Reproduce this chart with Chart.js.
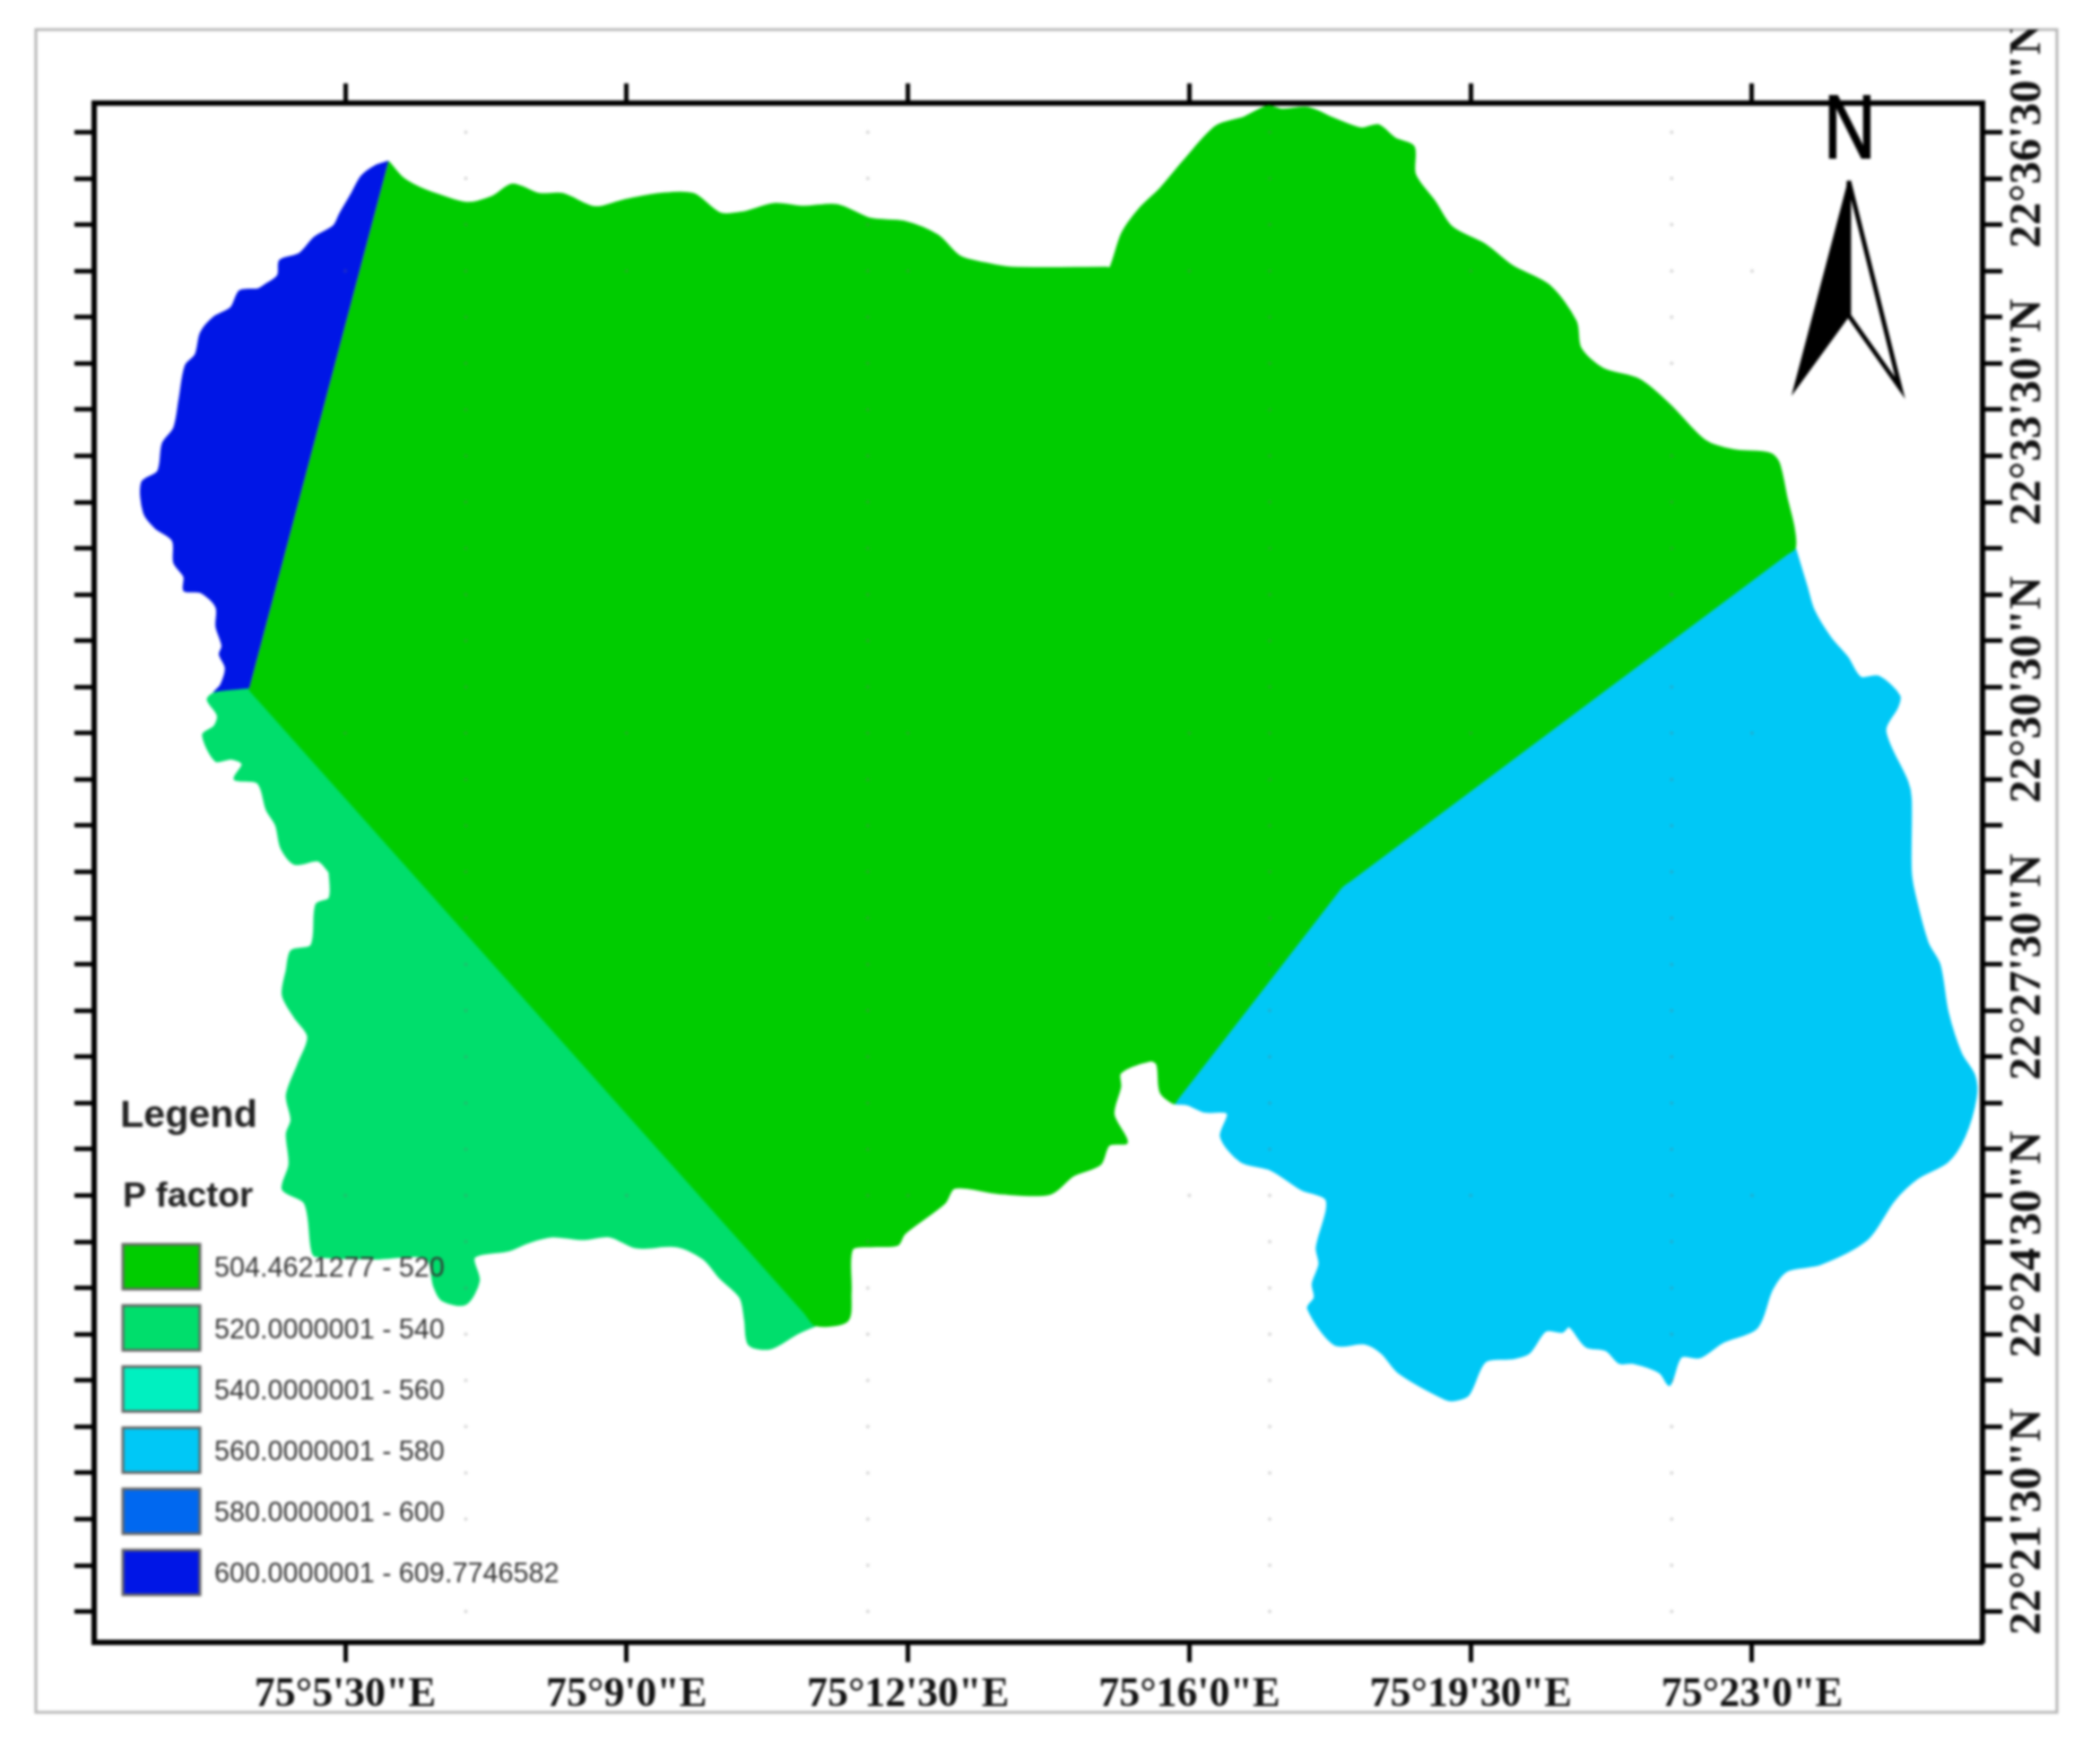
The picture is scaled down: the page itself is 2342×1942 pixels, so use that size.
<!DOCTYPE html>
<html>
<head>
<meta charset="utf-8">
<title>P factor</title>
<script src="https://cdn.jsdelivr.net/npm/chart.js@4"></script>
<style>
html, body { margin: 0; padding: 0; background: #fff; overflow: hidden; }
canvas { display: block; filter: blur(1.5px); }
</style>
</head>
<body>
<canvas id="map" width="2342" height="1942"></canvas>
<script>
// all positions are arc seconds past 75 deg E (lon) and 22 deg N (lat)
const xTickValues = [330, 540, 750, 960, 1170, 1380];
const xTickLabels = ['75°5\'30"E', '75°9\'0"E', '75°12\'30"E', '75°16\'0"E', '75°19\'30"E', '75°23\'0"E'];
const yLabelValues = [2190, 2010, 1830, 1650, 1470, 1290];
const yLabels = ['22°36\'30"N', '22°33\'30"N', '22°30\'30"N', '22°27\'30"N', '22°24\'30"N', '22°21\'30"N'];
const yTickValues = [2190, 2160, 2130, 2100, 2070, 2040, 2010, 1980, 1950, 1920, 1890, 1860, 1830, 1800, 1770, 1740, 1710,
    1680, 1650, 1620, 1590, 1560, 1530, 1500, 1470, 1440, 1410, 1380, 1350, 1320, 1290, 1260, 1230];
const gridLon = [420, 720, 1020, 1320];
const gridLat = [2100, 1800, 1500];

const classLabels = ['504.4621277 - 520', '520.0000001 - 540', '540.0000001 - 560', '560.0000001 - 580', '580.0000001 - 600', '600.0000001 - 609.7746582'];
const classColors = ['#00cc00', '#00de6c', '#00f0c0', '#00c8f6', '#0068f0', '#0016e6'];

const darkBlueLon = [362.3, 352.3, 342.3, 334.8, 326.3, 321.3, 307.3, 295.8, 281.3, 279.8, 269.8, 264.8, 251.3, 244.8, 232.3, 222.3, 218.3, 210.8, 206.3, 202.3,
    193.8, 190.3, 178.3, 179.8, 188.3, 201.3, 202.3, 209.8, 209.8, 222.3, 233.8, 233.8, 238.3, 236.3, 240.8, 237.3, 232.3, 258.3];
const darkBlueLat = [2170.9, 2168, 2161.5, 2150, 2137.4, 2129.1, 2121.9, 2111.1, 2106.8, 2097.1, 2090.6, 2088.1, 2087, 2076.2, 2070.1, 2060, 2045.6, 2038.4, 2016.8, 1998.1,
    1988, 1970, 1962.8, 1943, 1933.3, 1925, 1910.6, 1901.6, 1892.6, 1891.5, 1881.8, 1869.2, 1856.6, 1851.2, 1842.2, 1831.4, 1826, 1828.5];

const lightGreenLon = [258.3, 232.3, 227.3, 234.8, 232.3, 223.8, 233.3, 244.8, 253.3, 247.3, 264.8, 271.3, 278.3, 282.3, 292.3, 309.8, 317.3, 318.3, 318.3, 308.3,
    304.8, 289.8, 286.3, 283.3, 292.3, 302.3, 294.8, 286.3, 289.8, 286.3, 288.3, 283.3, 299.8, 304.8, 307.3, 352.3, 390.3, 396.3, 402.3, 419.8,
    429.8, 426.3, 452.3, 467.3, 484.8, 507.3, 527.3, 547.3, 577.3, 597.3, 609.8, 624.8, 628.3, 631.3, 647.3, 667.3, 681.3];
const lightGreenLat = [1828.5, 1826, 1821.7, 1811.6, 1804.4, 1799, 1782.1, 1783.5, 1779.9, 1770.2, 1767.7, 1750.4, 1740.3, 1725.2, 1715.1, 1717.3, 1710.8, 1709, 1693, 1688.7,
    1662.4, 1658.8, 1646.2, 1630, 1615.6, 1603, 1585, 1565.2, 1549, 1540, 1520.2, 1504, 1495, 1466.2, 1460.8, 1459, 1459.4, 1441, 1432, 1429.5,
    1444.6, 1460, 1464.4, 1469.8, 1473.4, 1471.6, 1473.4, 1466.2, 1467, 1459, 1446.4, 1433.8, 1419.4, 1403.2, 1400.7, 1410.4, 1415.8];

// extra vertices sit right next to the corners of the straight class borders so they stay straight
const greenLon = [362.3, 372.3, 384.8, 399.8, 420.8, 439.8, 454.8, 474.8, 492.3, 516.3, 537.3, 564.8, 589.8, 609.8, 627.3, 649.8, 672.3, 697.3, 722.3, 747.3,
    772.3, 788.3, 807.3, 827.3, 898, 901, 910, 923.5, 938.5, 956, 980, 1001, 1018.5, 1028.5, 1048.5, 1068.5, 1088.5, 1101, 1113.5, 1127.5, 1128.5,
    1143.5, 1156, 1181, 1201, 1228.5, 1248.5, 1252, 1268.5, 1296, 1318.5, 1345, 1366, 1393.5, 1400, 1406, 1411, 1412, 1405.2, 1080.3, 1073.5, 1071, 951, 948.5, 938.5,
    936, 931, 908.5, 908.5, 903.5, 913.5, 900, 893.5, 873.5, 856, 817.3, 784.8, 777.3, 747.3, 742.3, 722.3, 708.3, 707.3, 704.8, 681.3, 672.8, 266.8, 258.3];
const greenLat = [2170.9, 2160.8, 2154.3, 2149.3, 2144.2, 2148.2, 2156.1, 2150, 2150, 2141.4, 2145.7, 2150, 2150, 2137.4, 2138.1, 2143.5, 2141.7, 2142.8, 2133.8, 2132,
    2123, 2109.7, 2105, 2102.1, 2102.1, 2102.1, 2124.8, 2141, 2153.6, 2171.6, 2193.9, 2199.7, 2206.9, 2204.7, 2205.8, 2198.6, 2192.5, 2194.6, 2186, 2180.6, 2162.6,
    2144.6, 2128.4, 2116.9, 2103.2, 2090.6, 2067.2, 2049.9, 2036.6, 2029.4, 2013.2, 1989.8, 1983.7, 1981.5, 1975.4, 1952, 1934, 1920.3, 1915.9, 1704.6, 1700.2, 1697.4, 1562.6, 1559.8, 1567,
    1585, 1587.5, 1579.6, 1570.6, 1552.6, 1534.6, 1532.8, 1520.2, 1513, 1501, 1501.5, 1505, 1495, 1475.2, 1468, 1467, 1465.1, 1437.4, 1418.7, 1415.8, 1424.1, 1820.2, 1828.5];

const cyanLon = [1412, 1421, 1426, 1438.5, 1451, 1461, 1474.5, 1490, 1488.5, 1479.5, 1496, 1498.5, 1498.5, 1501, 1511, 1520, 1526, 1536, 1546, 1547,
    1538.5, 1526, 1503.5, 1486, 1466, 1431, 1406, 1395, 1383.5, 1358.5, 1341, 1327, 1318.5, 1311, 1291, 1281, 1271, 1256, 1243.5, 1238.5,
    1226, 1213.5, 1201, 1181, 1168.5, 1158.5, 1151, 1116, 1103.5, 1091, 1068.5, 1048.5, 1053.5, 1052, 1057, 1055, 1062.5, 1043.5, 1021, 998.5,
    983.5, 988.5, 971, 958.5, 948.5, 951, 1073.5];
const cyanLat = [1920.3, 1894.4, 1880, 1862, 1849.4, 1836.1, 1836.8, 1824.2, 1817, 1801.5, 1768.4, 1757.6, 1711.5, 1696.6, 1664.2, 1649.8, 1619.2, 1592.2, 1577.8, 1563.4,
    1538.2, 1522, 1511.2, 1496.8, 1471.6, 1455.4, 1451.1, 1439.2, 1414, 1405, 1394.9, 1395.3, 1377, 1385.2, 1391.3, 1391.3, 1399.6, 1402.1, 1415.1, 1411.5,
    1412.2, 1397.8, 1394.2, 1392.4, 1370.8, 1367.2, 1367.9, 1385.2, 1397.8, 1403.9, 1403.2, 1426.6, 1433.8, 1442.8, 1455.4, 1466.2, 1496.8, 1504, 1516.6, 1522,
    1538.2, 1553.3, 1554.4, 1559.1, 1559.8, 1562.6, 1700.2];

const arrowLeftLon = [1452.2, 1410.9, 1452.2, 1452.2];
const arrowLeftLat = [2158.4, 2021.7, 2071, 2158.4];
const arrowRightLon = [1452.2, 1452.2, 1490.5, 1452.2];
const arrowRightLat = [2158.4, 2071, 2024, 2158.4];

function toPoints(lon, lat) {
    return lon.map(function (v, i) { return { x: v, y: lat[i] }; });
}

function region(label, color, lon, lat) {
    return {
        label: label,
        data: toPoints(lon, lat),
        showLine: true,
        fill: 'shape',
        tension: 0.3,
        backgroundColor: color,
        borderColor: color,
        borderWidth: 2,
        borderJoinStyle: 'round',
        pointRadius: 0
    };
}

// faint graticule dots
const gridDots = [];
gridLon.forEach(function (lon) {
    yTickValues.forEach(function (lat) { gridDots.push({ x: lon, y: lat }); });
});
xTickValues.forEach(function (lon) {
    gridLat.forEach(function (lat) { gridDots.push({ x: lon, y: lat }); });
});

const datasets = [
    { label: 'grid', data: gridDots, showLine: false, pointRadius: 2, pointBorderWidth: 0, pointBackgroundColor: 'rgba(110,110,110,0.28)' },
    Object.assign(region('arrow left', '#000', arrowLeftLon, arrowLeftLat), { tension: 0, borderJoinStyle: 'miter' }),
    Object.assign(region('arrow right', '#fff', arrowRightLon, arrowRightLat), { tension: 0, borderColor: '#000', borderWidth: 5, borderJoinStyle: 'miter' }),
    region(classLabels[0], classColors[0], greenLon, greenLat),
    region(classLabels[1], classColors[1], lightGreenLon, lightGreenLat),
    region(classLabels[2], classColors[2], [], []),
    region(classLabels[3], classColors[3], cyanLon, cyanLat),
    region(classLabels[4], classColors[4], [], []),
    region(classLabels[5], classColors[5], darkBlueLon, darkBlueLat)
];

// page furniture: grey frame, rotated lat labels, legend, north letter
const mapFurniture = {
    id: 'mapFurniture',
    beforeDraw: function (chart) {
        const ctx = chart.ctx;
        ctx.save();
        ctx.strokeStyle = '#b4b4b4';
        ctx.lineWidth = 3;
        ctx.strokeRect(40, 33, 2254, 1877);
        ctx.restore();
    },
    afterDraw: function (chart) {
        const ctx = chart.ctx;
        const yScale = chart.scales.y;
        ctx.save();
        ctx.beginPath();
        ctx.rect(40, 33, 2254, 1877);
        ctx.clip();
        ctx.fillStyle = '#111';
        ctx.font = 'bold 51px "Liberation Serif"';
        ctx.textAlign = 'center';
        ctx.textBaseline = 'middle';
        yLabelValues.forEach(function (v, i) {
            ctx.save();
            ctx.translate(2262, yScale.getPixelForValue(v) + 3);
            ctx.rotate(-Math.PI / 2);
            ctx.fillText(yLabels[i], 0, 0);
            ctx.restore();
        });
        ctx.restore();

        // legend
        ctx.save();
        ctx.textAlign = 'left';
        ctx.textBaseline = 'middle';
        ctx.fillStyle = '#222';
        ctx.font = 'bold 43px "Liberation Sans"';
        ctx.fillText('Legend', 134, 1245);
        ctx.font = 'bold 39px "Liberation Sans"';
        ctx.fillText('P factor', 137, 1335);
        classLabels.forEach(function (label, i) {
            const top = 1388 + i * 68.2;
            ctx.fillStyle = classColors[i];
            ctx.fillRect(137, top, 86, 50);
            ctx.strokeStyle = '#666';
            ctx.lineWidth = 3;
            ctx.strokeRect(137, top, 86, 50);
            ctx.fillStyle = '#333';
            ctx.font = '30.6px "Liberation Sans"';
            ctx.fillText(label, 239, top + 28);
        });
        ctx.restore();

        // north letter
        ctx.save();
        ctx.translate(2063, 148);
        ctx.scale(0.8, 1);
        ctx.fillStyle = '#000';
        ctx.strokeStyle = '#000';
        ctx.lineWidth = 2;
        ctx.font = '100px "Liberation Sans"';
        ctx.textAlign = 'center';
        ctx.textBaseline = 'middle';
        ctx.fillText('N', 0, 0);
        ctx.strokeText('N', 0, 0);
        ctx.restore();
    }
};

function fixedWidth(w) {
    return function (scale) { scale.width = w; };
}
function fixedHeight(h) {
    return function (scale) { scale.height = h; };
}
function setTicks(values) {
    return function (scale) {
        scale.ticks = values.map(function (v) { return { value: v }; });
    };
}

const tickGrid = { drawOnChartArea: false, drawTicks: true, tickLength: 22, tickWidth: 5, tickColor: '#000' };
const axisBorder = { display: true, color: '#000', width: 6 };

new Chart(document.getElementById('map').getContext('2d'), {
    type: 'scatter',
    data: { datasets: datasets },
    options: {
        responsive: false,
        animation: false,
        devicePixelRatio: 1,
        layout: { padding: 0 },
        plugins: { legend: { display: false }, tooltip: { enabled: false } },
        scales: {
            x: {
                type: 'linear', position: 'bottom', min: 142.6, max: 1552,
                grid: tickGrid, border: axisBorder,
                afterBuildTicks: setTicks(xTickValues),
                afterFit: fixedHeight(110),
                ticks: {
                    autoSkip: false, maxRotation: 0, padding: 10, color: '#111',
                    font: { family: '"Liberation Serif"', weight: 'bold', size: 46 },
                    callback: function (v) { return xTickLabels[xTickValues.indexOf(v)]; }
                }
            },
            xTop: {
                type: 'linear', position: 'top', min: 142.6, max: 1552,
                grid: tickGrid, border: axisBorder,
                afterBuildTicks: setTicks(xTickValues),
                afterFit: fixedHeight(115),
                ticks: { display: false }
            },
            y: {
                type: 'linear', position: 'right', min: 1210, max: 2208.9,
                grid: tickGrid, border: axisBorder,
                afterBuildTicks: setTicks(yTickValues),
                afterFit: fixedWidth(131),
                ticks: { display: false }
            },
            yLeft: {
                type: 'linear', position: 'left', min: 1210, max: 2208.9,
                grid: tickGrid, border: axisBorder,
                afterBuildTicks: setTicks(yTickValues),
                afterFit: fixedWidth(105),
                ticks: { display: false }
            }
        }
    },
    plugins: [mapFurniture]
});
</script>
</body>
</html>
